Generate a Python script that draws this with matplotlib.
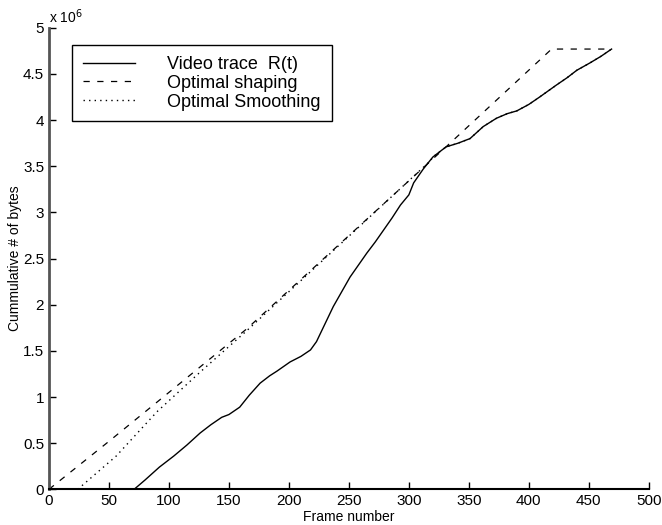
import matplotlib.pyplot as plt

plt.rcParams['font.family'] = ['Liberation Sans', 'DejaVu Sans']

# cumulative bytes, in units of 1e6
trace_frames = [71, 80, 92, 104, 115, 126, 135, 144, 150, 159, 167, 176, 184, 190,
                201, 210, 218, 223, 230, 237, 244, 251, 258, 265, 272, 279, 286,
                293, 300, 304, 312, 320, 331, 341, 351, 362, 373, 382, 390, 400,
                409, 423, 432, 440, 451, 460, 469]
trace_bytes = [0.0, 0.1, 0.24, 0.36, 0.48, 0.61, 0.70, 0.78, 0.81, 0.89, 1.02, 1.15,
               1.23, 1.28, 1.38, 1.44, 1.51, 1.60, 1.79, 1.98, 2.14, 2.30, 2.43, 2.56,
               2.68, 2.81, 2.94, 3.08, 3.19, 3.32, 3.47, 3.60, 3.71, 3.75, 3.80, 3.93,
               4.02, 4.07, 4.10, 4.17, 4.25, 4.38, 4.46, 4.54, 4.62, 4.69, 4.77]

shaping_frames = [0, 50, 100, 165, 331, 419, 469]
shaping_bytes = [0.0, 0.52, 1.05, 1.74, 3.71, 4.77, 4.77]

smooth_frames = [24, 56, 90, 126, 165, 318] + trace_frames[trace_frames.index(320):]
smooth_bytes = [0.0, 0.36, 0.84, 1.27, 1.72, 3.56] + trace_bytes[trace_frames.index(320):]

fig = plt.figure(figsize=(6.62, 5.25), dpi=100)
ax = fig.add_axes([0.074, 0.068, 0.906, 0.879])

ax.plot(trace_frames, trace_bytes, color='black', lw=1.0, label='Video trace  R(t)')
ax.plot(shaping_frames, shaping_bytes, color='black', lw=0.9, dashes=(5, 6),
        label='Optimal shaping')
ax.plot(smooth_frames, smooth_bytes, color='black', lw=1.0, dashes=(1, 3),
        label='Optimal Smoothing')

ax.set_xlim(0, 500)
ax.set_ylim(0, 5)
ax.set_xticks(range(0, 501, 50))
ax.set_yticks([0, 0.5, 1, 1.5, 2, 2.5, 3, 3.5, 4, 4.5, 5])
ax.set_yticklabels(['0', '0.5', '1', '1.5', '2', '2.5', '3', '3.5', '4', '4.5', '5'])
ax.tick_params(direction='in', length=5, labelsize=11, width=1)
for s in ['top', 'right']:
    ax.spines[s].set_visible(False)
ax.spines['left'].set_linewidth(2)
ax.spines['left'].set_color('#555555')
ax.spines['bottom'].set_linewidth(1.5)

ax.text(0.0, 1.005, 'x 10$^6$', transform=ax.transAxes, fontsize=10, ha='left', va='bottom')
ax.set_xlabel('Frame number', fontsize=10, labelpad=1)
ax.set_ylabel('Cummulative # of bytes', fontsize=10, labelpad=1)

leg = ax.legend(loc='upper left', bbox_to_anchor=(0.038, 0.9625), borderaxespad=0,
                fontsize=13, handlelength=2.9, handletextpad=1.8, labelspacing=0.1,
                fancybox=False, edgecolor='black', framealpha=1, borderpad=0.6)
leg.get_frame().set_linewidth(1.0)

fig.savefig('out.png', dpi=100)
